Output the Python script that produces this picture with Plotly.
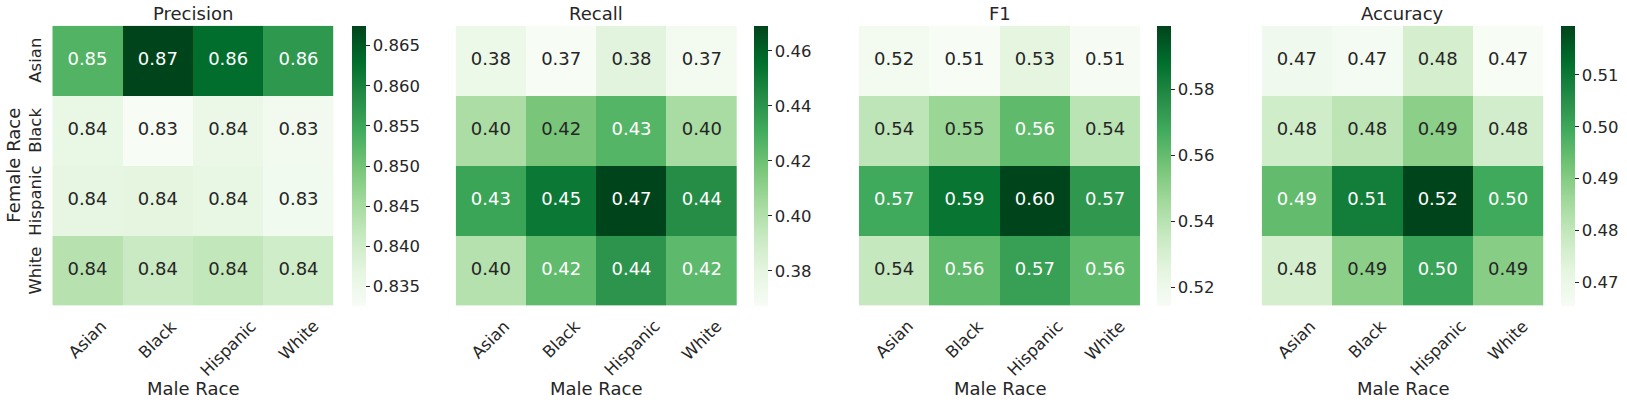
import plotly.graph_objects as go

# ---------------- data ----------------
male_race = ["Asian", "Black", "Hispanic", "White"]      # columns (x)
female_race = ["Asian", "Black", "Hispanic", "White"]    # rows (y)
metric_titles = ["Precision", "Recall", "F1", "Accuracy"]

precision = [
    [0.8530, 0.8675, 0.8630, 0.8570],
    [0.8360, 0.8326, 0.8355, 0.8338],
    [0.8365, 0.8370, 0.8362, 0.8340],
    [0.8432, 0.8410, 0.8420, 0.8400],
]
recall = [
    [0.3750, 0.3674, 0.3810, 0.3700],
    [0.4020, 0.4170, 0.4260, 0.4030],
    [0.4340, 0.4520, 0.4692, 0.4430],
    [0.3990, 0.4230, 0.4400, 0.4240],
]
f1 = [
    [0.5170, 0.5144, 0.5250, 0.5147],
    [0.5380, 0.5480, 0.5610, 0.5390],
    [0.5680, 0.5860, 0.5993, 0.5740],
    [0.5360, 0.5610, 0.5710, 0.5610],
]
accuracy = [
    [0.4680, 0.4665, 0.4760, 0.4655],
    [0.4770, 0.4810, 0.4890, 0.4765],
    [0.4948, 0.5090, 0.5195, 0.4995],
    [0.4760, 0.4890, 0.5010, 0.4895],
]

ticks_precision = [0.835, 0.840, 0.845, 0.850, 0.855, 0.860, 0.865]
ticks_recall = [0.38, 0.40, 0.42, 0.44, 0.46]
ticks_f1 = [0.52, 0.54, 0.56, 0.58]
ticks_accuracy = [0.47, 0.48, 0.49, 0.50, 0.51]

x_label = "Male Race"
y_label = "Female Race"

# ---------------- style ----------------
W, H = 1627, 405
FONT = "DejaVu Sans"
FS = 18          # titles, axis labels, cell annotations
FS_TICK = 16.5   # tick labels (axes and colorbars)
DARK = "#262626"
greens_hex = ["#f7fcf5", "#e5f5e0", "#c7e9c0", "#a1d99b", "#74c476",
              "#41ab5d", "#238b45", "#006d2c", "#00441b"]
colorscale = [[i / (len(greens_hex) - 1), c] for i, c in enumerate(greens_hex)]


def hex2rgb(h):
    h = h.lstrip("#")
    return [int(h[i:i + 2], 16) / 255 for i in (0, 2, 4)]


def cmap(t):
    t = min(max(t, 0.0), 1.0)
    n = len(greens_hex) - 1
    i = min(int(t * n), n - 1)
    f = t * n - i
    a, b = hex2rgb(greens_hex[i]), hex2rgb(greens_hex[i + 1])
    return [a[k] + (b[k] - a[k]) * f for k in range(3)]


def luminance(rgb):
    lin = [c / 12.92 if c <= 0.03928 else ((c + 0.055) / 1.055) ** 2.4 for c in rgb]
    return 0.2126 * lin[0] + 0.7152 * lin[1] + 0.0722 * lin[2]


def px(x):
    return x / W


def py(y):
    return 1 - y / H


heat_x = [(52.3, 333.7), (455.7, 737.0), (859.0, 1140.3), (1261.7, 1543.3)]
cbar_left = [352.0, 754.0, 1157.0, 1561.0]
TOP, BOT = 25.7, 305.6

datasets = [precision, recall, f1, accuracy]
tick_sets = [ticks_precision, ticks_recall, ticks_f1, ticks_accuracy]
tick_fmts = [".3f", ".2f", ".2f", ".2f"]

fig = go.Figure()
annotations = []
layout_axes = {}

for k, (z, ticks, fmt) in enumerate(zip(datasets, tick_sets, tick_fmts)):
    xa = "x" if k == 0 else f"x{k + 1}"
    ya = "y" if k == 0 else f"y{k + 1}"
    flat = [v for row in z for v in row]
    zmin, zmax = min(flat), max(flat)

    fig.add_trace(go.Heatmap(
        z=z, x=male_race, y=female_race, xaxis=xa, yaxis=ya,
        colorscale=colorscale, zmin=zmin, zmax=zmax, hoverinfo="skip",
        colorbar=dict(
            x=px(cbar_left[k]), xanchor="left", xpad=0, ypad=0,
            y=py((TOP + BOT) / 2), yanchor="middle",
            len=BOT - TOP, lenmode="pixels", thickness=14, thicknessmode="pixels",
            outlinewidth=0, ticks="outside", ticklen=4, tickwidth=1, tickcolor=DARK,
            tickvals=ticks, ticktext=[format(t, fmt) for t in ticks],
            tickfont=dict(family=FONT, size=FS_TICK, color=DARK),
        ),
    ))

    # cell text
    xs, ys, texts, colors = [], [], [], []
    for i, fr in enumerate(female_race):
        for j, mr in enumerate(male_race):
            v = z[i][j]
            lum = luminance(cmap((v - zmin) / (zmax - zmin)))
            xs.append(mr)
            ys.append(fr)
            texts.append(f"{v:.2f}")
            colors.append(DARK if lum > 0.408 else "white")
    fig.add_trace(go.Scatter(
        x=xs, y=ys, text=texts, mode="text", xaxis=xa, yaxis=ya,
        textfont=dict(family=FONT, size=FS, color=colors),
        hoverinfo="skip", showlegend=False,
    ))

    x0, x1 = heat_x[k]
    layout_axes["xaxis" if k == 0 else f"xaxis{k + 1}"] = dict(
        domain=[px(x0), px(x1)], anchor=ya, range=[-0.5, 3.5],
        showticklabels=False, ticks="", showgrid=False, zeroline=False,
        categoryorder="array", categoryarray=male_race,
    )
    layout_axes["yaxis" if k == 0 else f"yaxis{k + 1}"] = dict(
        domain=[py(BOT), py(TOP)], anchor=xa, range=[3.5, -0.5],
        showticklabels=False, ticks="", showgrid=False, zeroline=False,
        categoryorder="array", categoryarray=female_race,
    )

    cx = (x0 + x1) / 2
    annotations.append(dict(
        text=metric_titles[k], x=px(cx), y=py(14), xref="paper", yref="paper",
        xanchor="center", yanchor="middle", showarrow=False,
        font=dict(family=FONT, size=FS, color=DARK),
    ))
    annotations.append(dict(
        text=x_label, x=px(cx), y=py(388), xref="paper", yref="paper",
        xanchor="center", yanchor="middle", showarrow=False,
        font=dict(family=FONT, size=FS, color=DARK),
    ))
    for mr in male_race:
        annotations.append(dict(
            text=mr, x=mr, xref=xa, y=py(314), yref="paper",
            xanchor="center", yanchor="top", textangle=-45, showarrow=False,
            font=dict(family=FONT, size=FS_TICK, color=DARK),
        ))

for fr in female_race:
    annotations.append(dict(
        text=fr, y=fr, yref="y", x=px(36), xref="paper",
        xanchor="center", yanchor="middle", textangle=-90, showarrow=False,
        font=dict(family=FONT, size=FS_TICK, color=DARK),
    ))
annotations.append(dict(
    text=y_label, x=px(14), y=py((TOP + BOT) / 2), xref="paper", yref="paper",
    xanchor="center", yanchor="middle", textangle=-90, showarrow=False,
    font=dict(family=FONT, size=FS, color=DARK),
))

fig.update_layout(
    width=W, height=H, margin=dict(l=0, r=0, t=0, b=0),
    paper_bgcolor="white", plot_bgcolor="white", showlegend=False,
    annotations=annotations, font=dict(family=FONT, size=FS, color=DARK),
    **layout_axes,
)

fig.write_html(
    "out.html",
    config={"displayModeBar": False},
    post_script="document.body.style.margin='0';document.body.style.overflow='hidden';",
)
